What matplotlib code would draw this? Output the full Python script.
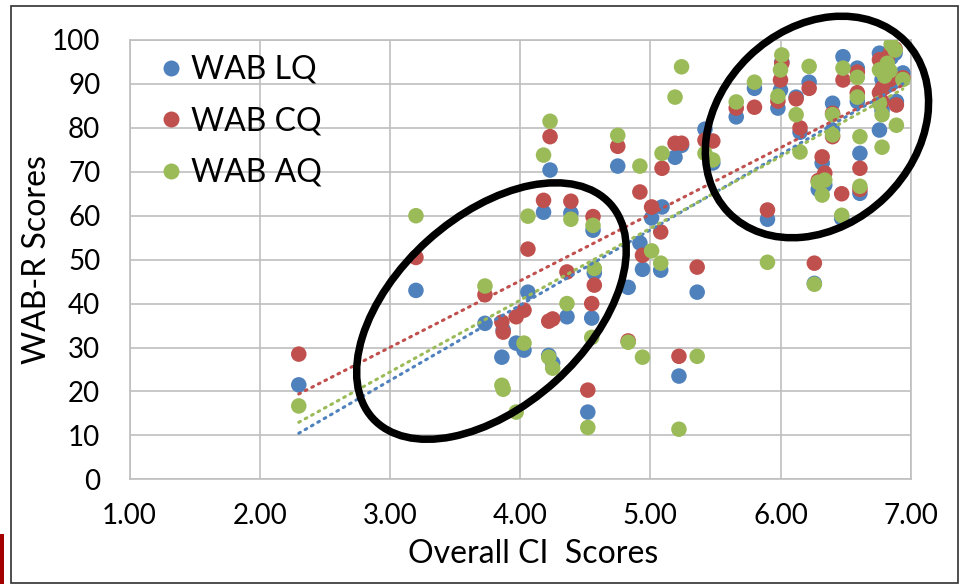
import numpy as np
import matplotlib
matplotlib.use("Agg")
import matplotlib.pyplot as plt
from matplotlib.patches import Ellipse, Rectangle
from matplotlib.lines import Line2D
import matplotlib.transforms as mtransforms
from matplotlib.ticker import FormatStrFormatter, MultipleLocator

# Overall CI score per participant and the three WAB-R scores
ci_scores = [2.30, 3.20, 3.73, 3.86, 3.87, 3.97, 4.03, 4.06, 4.18, 4.23, 4.22, 4.25, 4.36,
             4.39, 4.52, 4.55, 4.56, 4.57, 4.75, 4.83, 4.92, 4.94, 5.01, 5.08, 5.09, 5.19,
             5.24, 5.22, 5.36, 5.42, 5.48, 5.66, 5.80, 5.90, 5.98, 6.00, 6.01, 6.12, 6.15,
             6.22, 6.26, 6.29, 6.34, 6.32, 6.40, 6.40, 6.47, 6.48, 6.59, 6.59, 6.61, 6.61,
             6.76, 6.76, 6.78, 6.78, 6.82, 6.85, 6.88, 6.89, 6.94, 6.80, 6.84]
wab_lq = [21.5, 43, 35.5, 27.8, 34, 31, 29.4, 42.6, 60.8, 70.4, 28.2, 26.5, 37,
          60.6, 15.3, 36.7, 56.7, 47, 71.3, 43.7, 53.8, 47.8, 59.5, 47.6, 62, 73.3,
          76, 23.5, 42.6, 79.7, 72, 82.5, 89, 59.2, 84.5, 88.6, 95, 87, 79,
          90.4, 44.6, 66, 67, 72, 85.6, 79.5, 59.4, 96.2, 93.6, 86, 74.2, 65.1,
          97, 79.5, 84, 91, 95, 96, 97, 86, 92.5, 93, 90]
wab_cq = [28.5, 50.5, 42, 35.8, 33.5, 37, 38.5, 52.4, 63.5, 78, 36, 36.5, 47.2,
          63.3, 20.3, 40, 59.8, 44.2, 75.8, 31.5, 65.4, 51, 62, 56.3, 70.8, 76.5,
          76.5, 28, 48.3, 77.2, 77, 84.5, 84.7, 61.3, 86.1, 90.9, 94.7, 86.6, 80,
          89, 49.2, 68, 69.7, 73.4, 83.3, 78, 65, 90.9, 92.7, 88, 70.8, 66,
          95.5, 88, 86, 89, 96, 97.5, 98, 85.2, 91.4, 92, 91]
wab_aq = [16.7, 60, 44, 21.4, 20.5, 15.3, 31, 59.9, 73.8, 81.5, 27.8, 25.3, 40,
          59.2, 11.8, 32.3, 57.8, 48, 78.3, 31.2, 71.3, 27.8, 52, 49.2, 74.2, 87,
          93.9, 11.4, 28, 74.2, 72.7, 85.9, 90.4, 49.4, 87.2, 93.2, 96.6, 83, 74.5,
          94, 44.4, 67.6, 68.1, 64.7, 83, 78.4, 60.1, 93.6, 91.5, 87, 78, 66.7,
          93.2, 85.6, 83, 75.6, 94.7, 99, 97.7, 80.6, 91, 91.8, 93]

series_names = ["WAB LQ", "WAB CQ", "WAB AQ"]
series_colors = ["#4F81BD", "#C0504D", "#9BBB59"]

# groups circled on the chart: centre (data units), semi-axes (inches), tilt
circled_groups = [
    ((3.78, 38.3), 1.60, 0.95, 42),
    ((6.28, 80.2), 1.23, 0.98, 44),
]

FONT = "Lato"
GRID = "#BFBFBF"

fig = plt.figure(figsize=(9.6, 5.84), dpi=100)
ax = fig.add_axes([129.5 / 960, 1 - 479.3 / 584, (910.7 - 129.5) / 960, (479.3 - 40) / 584])

x = np.array(ci_scores)
handles = []
for name, vals, color in zip(series_names, [wab_lq, wab_cq, wab_aq], series_colors):
    y = np.array(vals)
    ax.scatter(x, y, s=125, color=color, edgecolors="none", zorder=3)
    # linear trendline over the data range
    k, b = np.polyfit(x, y, 1)
    xs = np.array([x.min(), x.max()])
    ax.plot(xs, k * xs + b, color=color, linestyle=(0, (0.6, 1.8)),
            linewidth=2.2, dash_capstyle="round", zorder=4)
    handles.append(Line2D([], [], marker="o", linestyle="none", markersize=11.5,
                          markerfacecolor=color, markeredgecolor="none", label=name))

ax.set_xlim(1, 7)
ax.set_ylim(0, 100)
ax.xaxis.set_major_locator(MultipleLocator(1))
ax.yaxis.set_major_locator(MultipleLocator(10))
ax.xaxis.set_major_formatter(FormatStrFormatter("%.2f"))
ax.grid(True, color=GRID, linewidth=1.2)
ax.set_axisbelow(True)
for sp in ax.spines.values():
    sp.set_color(GRID)
    sp.set_linewidth(1.2)
ax.tick_params(length=0, labelsize=20, colors="black")
ax.tick_params(axis="y", pad=21)
ax.tick_params(axis="x", pad=17)
for lbl in ax.get_xticklabels() + ax.get_yticklabels():
    lbl.set_family(FONT)

ax.set_xlabel("Overall CI  Scores", fontsize=23, family=FONT)
ax.xaxis.set_label_coords(0.5165, -0.135)
ax.set_ylabel("WAB-R Scores", fontsize=23, family=FONT, labelpad=0)

leg = ax.legend(handles=handles, loc="upper left", bbox_to_anchor=(0.016, 0.995),
                frameon=False, prop={"family": FONT, "size": 23},
                handletextpad=0.12, labelspacing=0.67, handlelength=1.0,
                borderaxespad=0)

# black ellipses around the two groups
for (cx, cy), a, bsemi, ang in circled_groups:
    trans = fig.dpi_scale_trans + mtransforms.ScaledTranslation(cx, cy, ax.transData)
    ax.add_patch(Ellipse((0, 0), 2 * a, 2 * bsemi, angle=ang, transform=trans,
                         fill=False, edgecolor="black", linewidth=5.4, zorder=6,
                         clip_on=False))

# chart border and the slide edge strip
fig.patches.append(Rectangle((10.5 / 960, 1 / 584), 947.5 / 960, 577 / 584,
                             transform=fig.transFigure, fill=False,
                             edgecolor="#303030", linewidth=1.2))
fig.patches.append(Rectangle((0, 0), 3.5 / 960, 50 / 584, transform=fig.transFigure,
                             facecolor="#A50000", edgecolor="none"))

fig.savefig("out.png", dpi=100)
plt.close(fig)
